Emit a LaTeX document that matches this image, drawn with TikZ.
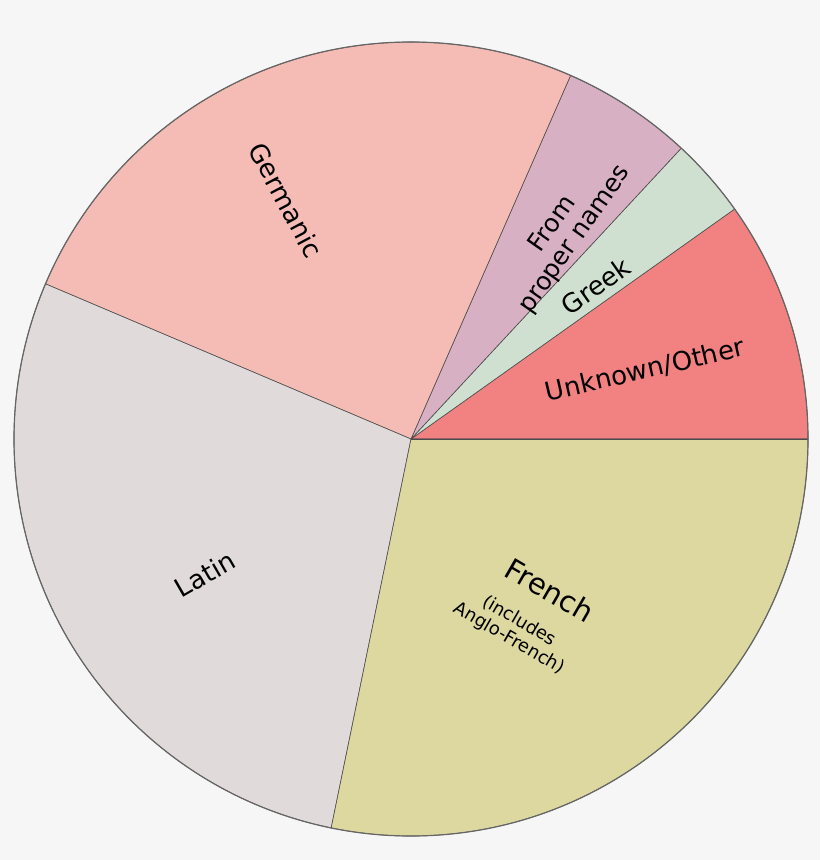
\documentclass[tikz,border=0pt]{standalone}
\usepackage{fontspec}
\setmainfont{DejaVu Sans}
\begin{document}
\begin{tikzpicture}[x=1pt,y=-1pt,
  sl/.style={draw=black!70,line width=0.6pt},
  lab/.style={font=\fontsize{26}{29}\selectfont,align=center,inner sep=0pt}]
\fill[gray!7] (0,0) rectangle (820,860);
\useasboundingbox (0,0) rectangle (820,860);
\coordinate (c) at (411,439);
\def\R{397}
\fill[sl,fill={rgb,255:red,242;green,130;blue,130}] (c) -- ++(0:\R) arc[start angle=0,end angle=-35.4,radius=\R] -- cycle;
\fill[sl,fill={rgb,255:red,208;green,224;blue,208}] (c) -- ++(-35.4:\R) arc[start angle=-35.4,end angle=-47.1,radius=\R] -- cycle;
\fill[sl,fill={rgb,255:red,216;green,176;blue,196}] (c) -- ++(-47.1:\R) arc[start angle=-47.1,end angle=-66.3,radius=\R] -- cycle;
\fill[sl,fill={rgb,255:red,244;green,188;blue,180}] (c) -- ++(-66.3:\R) arc[start angle=-66.3,end angle=-157,radius=\R] -- cycle;
\fill[sl,fill={rgb,255:red,224;green,218;blue,218}] (c) -- ++(-157:\R) arc[start angle=-157,end angle=-258.4,radius=\R] -- cycle;
\fill[sl,fill={rgb,255:red,220;green,216;blue,160}] (c) -- ++(-258.4:\R) arc[start angle=-258.4,end angle=-360,radius=\R] -- cycle;
\draw[sl] (c) -- ++(0:\R);
\draw[black!60,line width=1.2pt] (c) circle[radius=\R];
\node[lab,rotate=-62] (ger) at (286,200) {Germanic};
\node[lab,rotate=55,font=\fontsize{25}{27}\selectfont] (prop) at (564,232) {From\\proper names};
\node[lab,rotate=35] (gre) at (596,286) {Greek};
\node[lab,rotate=13] (unk) at (645,370) {Unknown/Other};
\node[lab,rotate=-30,font=\fontsize{29}{31}\selectfont] (fr) at (550,590) {French};
\node[lab,rotate=-30,font=\fontsize{18}{20}\selectfont] (frs) at (514,630) {(includes\\Anglo-French)};
\node[lab,rotate=30] (lat) at (205,574) {Latin};
\end{tikzpicture}
\end{document}
